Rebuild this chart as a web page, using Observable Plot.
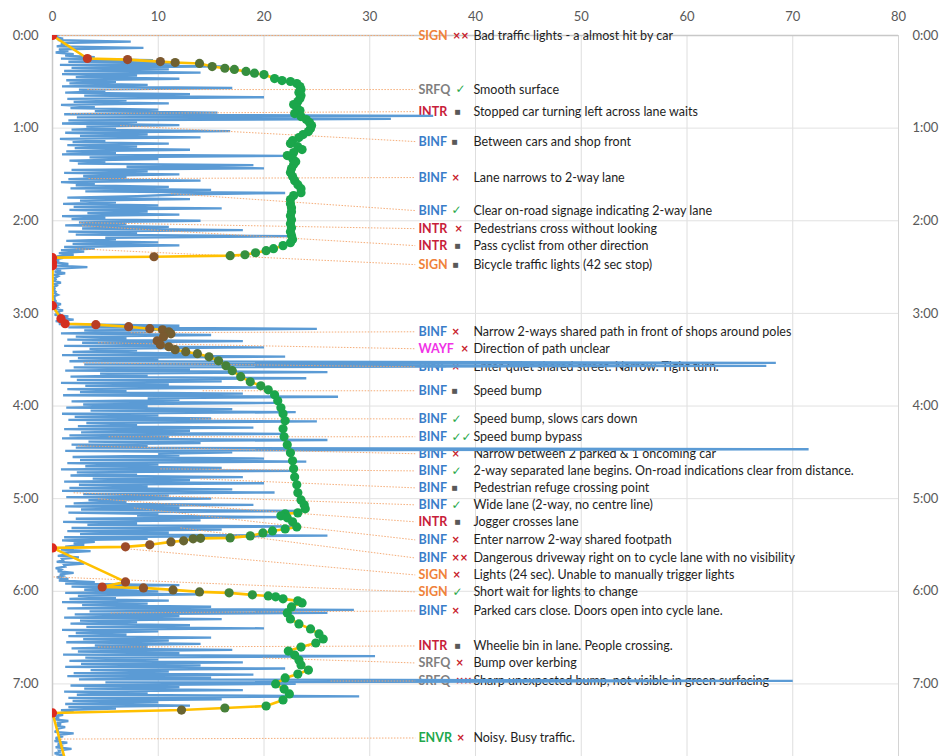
<!DOCTYPE html>
<html><head><meta charset="utf-8">
<script src="https://cdn.jsdelivr.net/npm/d3@7"></script>
<script src="https://cdn.jsdelivr.net/npm/@observablehq/plot@0.6"></script>
<style>body{margin:0;background:#fff;} #chart{width:941px;height:756px;overflow:hidden;}</style>
</head><body><div id="chart"></div>
<script>
// ---- Blue series (vibration), sampled every 2 s: peak value and trough value ----
const blueHigh = [
 0.5,1,7.4,1.2,8.6,1.5,2,4,9.5,12,16,11,14,8,12,
 6,9,17,5,13,20,7,11,4,10,15.6,36,32,8,12,6,16.8,9,14,5,11,
 8,13,6,22,10,5,19,20,9,12,7,14,4,11,15,22,8,13,6,10,16,9,12,5,14,7,11,18,8,22.5,6,10,12,4,3,2,
 1,0.5,1.5,3.3,0.8,1.2,0.5,0.3,0.8,0.4,0.2,0.3,0.5,0.2,0.3,0.8,0.5,1,0.6,1.5,2,1.2,
 12,25,9,15,7,18,11,20,8,14, 22,10,68.4,67.5,13,26,9,24,16,11, 20,7,18,27,12,21,9,17,23,10,
 15,25,8,19,13,22,11,26,14,9, 71.5,17,12,20,24,10,16,23,8,18, 13,20,9,17,21,11,15,7,19,12,
 24,10,22,14,8,23,16,11,26,9,
 4,3,2,3.6,1.5,2.5,1,3,1.2,0.8,2,1,1.5,4,
 12,8,10,14,6,11,9,15,28.5,26, 12,16,8,13,20,10,7,15,11,14, 9,17,12,30.5,10,18,14,22,11,19,
 15,70,23,12,18,9,29,16,10,
 13,6,2,1,0.5,1.5,0.8,1.2,0.5,2,1,0.6,1.4,0.8,1.8,0.7,1
];
const blueLow = [
 0.2,0.5,0.8,0.4,0.6,0.3,1.2,0.8,1.5,0.7,1.8,1.1,0.9,2.2,1.3,
 1.6,0.9,2.5,1.2,3,1.4,2,0.8,1.7,4,1.1,2.3,1.5,0.9,3.2,1.8,1.2,2.6,0.7,1.9,1.4,
 2.1,1.3,0.9,3.5,1.6,2.4,7,1.8,1.1,2.9,1.5,0.8,2.2,1.7,3.1,12,1.4,2.6,1.0,2.0,1.6,3.3,0.9,1.8,2.5,1.2,2.8,1.5,2.2,5,1.3,1.9,1.1,0.8,0.6,0.4,
 0.3,0.2,0.4,0.3,0.2,0.1,0.2,0.1,0.2,0.1,0.1,0.2,0.1,0.2,0.1,0.3,0.2,0.4,0.2,0.5,0.3,0.6,
 1.5,3,0.8,2.2,1.4,2.8,1.1,3.5,1.9,0.9, 2.4,1.6,3,2,1.2,4.5,1.7,2.3,0.8,3.1, 1.4,2.6,1.0,9,1.8,2.9,1.3,3.6,0.9,2.1,
 1.5,3.2,2.4,1.1,2.7,1.6,0.9,3.4,1.8,2.2, 1.2,10,1.9,2.6,1.4,3.1,0.8,2.3,1.7,3.8, 1.1,2.5,1.6,0.9,2.9,1.3,3.4,2.0,1.2,2.7,
 1.5,8,2.2,1.0,3.3,1.8,1.4,2.6,1.1,0.9,
 2,1.2,0.8,1,0.5,0.9,0.4,1.1,0.3,0.5,0.7,0.4,0.6,1.2,
 1.8,3,1.2,2.4,1.6,0.9,2.8,1.4,3.5,2.1, 1.1,2.6,1.7,3.2,0.9,2.2,1.5,2.9,1.3,4, 1.8,2.4,1.0,3.1,1.6,2.7,1.2,3.6,2.0,1.4,
 2.5,5,1.7,3.0,1.1,2.3,1.5,1.9,1.2,
 1.5,0.8,0.4,0.3,0.2,0.4,0.3,0.5,0.2,0.6,0.3,0.2,0.5,0.3,0.6,0.2,0.4
];
const blueStep = 2; // seconds between samples

// ---- Speed series (time in seconds, speed) ----
const speedTime = [
 0,14.9,15.6,16.9,17.5,18.1,20.1,21.2,22.0,23.3,24.4,25.3,27.9,29.2,29.8,
 31.1,33.1,35.0,36.9,38.9,40.8,42.8,44.7,46.7,48.6,50.6,52.5,54.4,56.4,58.3,60.3,62.2,64.2,66.1,68.1,70.0,72.0,73.9,75.8,77.8,79.7,81.7,83.6,86.2,88.8,91.4,94.0,96.6,99.2,101.8,103.7,106.3,108.9,111.5,114.1,116.7,119.3,121.9,124.5,127.1,129.6,132.2,134.2,136.1,138.1,139.4,140.7,142.0,142.6,143.3,143.9,147.1,149.1,
 175,183.4,186.7,187.3,188.6,189.9,190.6,191.9,193.2,195.1,197.7,200.3,201.6,203.5,204.8,206.1,208.1,210.7,213.9,217.1,221.0,224.3,226.9,229.5,232.7,236.6,241.1,245.0,249.6,254.7,259.9,265.1,270.3,275.5,280.7,285.9,291.0,296.2,300.8,304.0,306.6,309.2,309.8,311.1,312.4,315.0,318.3,319.6,320.9,322.2,324.1,325.4,325.7,326.0,327.3,328.0,329.9,331.2,331.9,
 353.9,357.2,357.8,359.1,360.4,361.0,362.3,363.0,363.6,364.9,366.2,367.5,370.1,374.0,377.9,381.1,384.4,387.6,390.9,393.5,396.1,398.7,401.3,404.5,407.7,411.0,413.6,416.1,420.0,423.3,426.5,430.4,434.3,435.6,436.9,438.8,472
];
const speedValue = [
 0,3.3,7.1,10.2,11.6,13.9,15.1,16.3,17.2,18.3,19.1,20.0,21.0,21.7,22.5,
 23.1,23.4,23.5,23.3,23.5,23.4,23.2,22.8,23.1,23.4,22.9,23.5,24.0,24.3,24.5,24.4,24.2,23.7,23.3,22.7,22.5,23.2,23.6,22.8,22.2,22.7,23.0,22.8,22.6,22.5,22.7,22.9,23.2,23.5,23.5,22.8,22.5,22.5,22.6,22.6,22.5,22.6,22.5,22.6,22.5,22.6,22.7,22.5,21.8,20.9,20.2,19.2,18.2,16.8,9.6,0,0,0,
 0,0.8,1.2,4.1,7.2,9.2,10.4,11.0,11.2,10.5,9.9,10.2,11.0,11.6,12.6,13.7,14.8,15.7,16.4,17.0,17.8,18.7,19.7,20.4,21.0,21.3,21.6,21.8,22.0,21.8,21.9,22.2,22.5,22.7,22.8,22.9,23.1,23.2,23.5,23.8,23.9,23.2,22.0,21.6,22.2,22.7,23.1,22.0,20.8,19.9,18.7,16.8,14.0,13.3,12.4,11.2,9.2,6.9,0,
 6.9,4.7,8.6,11.4,13.9,16.7,18.9,20.4,21.1,21.8,23.2,23.6,22.6,22.2,22.5,23.3,24.4,25.2,25.6,24.9,23.5,22.3,22.9,23.3,23.5,24.2,23.2,22.0,21.1,21.9,22.4,21.8,20.2,16.3,12.2,0,1.3
];

// ---- Annotations ----
const annCategory = ["SIGN","SRFQ","INTR","BINF","BINF","BINF","INTR","INTR","SIGN","BINF","WAYF","BINF","BINF","BINF","BINF","BINF","BINF","BINF","BINF","INTR","BINF","BINF","SIGN","SIGN","BINF","INTR","SRFQ","SRFQ","ENVR"];
const annRating = ["××","✓","■","■","×","✓","×","■","■","×","×","×","■","✓","✓✓","×","✓","■","✓","■","×","××","×","✓","×","■","×","××","×"];
const annText = [
 "Bad traffic lights - a almost hit by car",
 "Smooth surface",
 "Stopped car turning left across lane waits",
 "Between cars and shop front",
 "Lane narrows to 2-way lane",
 "Clear on-road signage indicating 2-way lane",
 "Pedestrians cross without looking",
 "Pass cyclist from other direction",
 "Bicycle traffic lights (42 sec stop)",
 "Narrow 2-ways shared path in front of shops around poles",
 "Direction of path unclear",
 "Enter quiet shared street. Narrow. Tight turn.",
 "Speed bump",
 "Speed bump, slows cars down",
 "Speed bump bypass",
 "Narrow between 2 parked & 1 oncoming car",
 "2-way separated lane begins. On-road indications clear from distance.",
 "Pedestrian refuge crossing point",
 "Wide lane (2-way, no centre line)",
 "Jogger crosses lane",
 "Enter narrow 2-way shared footpath",
 "Dangerous driveway right on to cycle lane with no visibility",
 "Lights (24 sec). Unable to manually trigger lights",
 "Short wait for lights to change",
 "Parked cars close. Doors open into cycle lane.",
 "Wheelie bin in lane. People crossing.",
 "Bump over kerbing",
 "Sharp unexpected bump, not visible in green surfacing",
 "Noisy. Busy traffic."
];
const annEventTime = [0,35.0,50.6,58.3,92.7,102.4,121.2,123.2,138.1,192.5,199.0,212.0,230.1,248.3,259.9,265.8,280.7,287.2,296.2,300.1,306.0,318.9,332.5,350.7,374.0,396.1,403.2,418.1,455.7];
const annEventValue = [0,3.3,1.7,6.4,3.4,11.2,2.6,2.8,2.2,7.4,4.3,2.9,14.2,13.0,5.3,2.4,10.2,14.0,2.0,4.3,7.7,12.1,7.1,0.1,5.5,4.3,19.9,26.3,0.8];
const annLabelTime = [0,35.0,49.3,68.7,92.0,113.4,125.1,136.1,148.4,191.9,202.9,214.6,230.1,248.3,259.9,270.9,282.0,293.0,304.0,315.0,326.7,338.4,349.4,360.4,372.7,395.4,406.4,418.1,455.0];

const xTicks = [0,10,20,30,40,50,60,70,80];
const timeTicks = [0,60,120,180,240,300,360,420];

// ---- styling ----
const catStyle = {
  SIGN:{color:"#f0823a", iconDx:34},
  SRFQ:{color:"#7f7f7f", iconDx:37},
  INTR:{color:"#c8203a", iconDx:36},
  BINF:{color:"#3a7dc9", iconDx:33},
  WAYF:{color:"#f032e6", iconDx:42},
  ENVR:{color:"#22a84c", iconDx:38}
};
const ratingStyle = {
  "✓":{color:"#2aa84a", size:12, weight:"normal"},
  "✓✓":{color:"#2aa84a", size:12, weight:"normal"},
  "×":{color:"#c8202a", size:10, weight:"bold"},
  "××":{color:"#c8202a", size:10, weight:"bold"},
  "■":{color:"#595959", size:6.5, weight:"normal"}
};
const labelX = 34.6, leaderEndX = 34.3, descDx = 55;

const blue = [];
blueHigh.forEach((h, i) => {
  blue.push({t: i * blueStep, v: h});
  blue.push({t: i * blueStep + blueStep / 2, v: blueLow[i]});
});
const speed = speedTime.map((t, i) => ({t, v: speedValue[i]}));
const ann = annCategory.map((c, i) => ({
  cat: c, rating: annRating[i], text: annText[i],
  eT: annEventTime[i], eV: annEventValue[i], lT: annLabelTime[i],
  lx: labelX, ex: leaderEndX
}));

const fmtTime = t => `${Math.floor(t / 60)}:${String(t % 60).padStart(2, "0")}`;
const FONT = "Lato, 'Liberation Sans', sans-serif";

const textMarks = [];
for (const c of Object.keys(catStyle)) {
  const rows = ann.filter(d => d.cat === c);
  if (!rows.length) continue;
  textMarks.push(Plot.text(rows, {x: "lx", y: "lT", text: "cat", textAnchor: "start",
    fill: catStyle[c].color, fontWeight: "bold", fontSize: 12.5, fontFamily: FONT}));
  for (const r of Object.keys(ratingStyle)) {
    const rr = rows.filter(d => d.rating === r);
    if (!rr.length) continue;
    const s = ratingStyle[r];
    textMarks.push(Plot.text(rr, {x: "lx", y: "lT", text: "rating", textAnchor: "start",
      dx: catStyle[c].iconDx, fill: s.color, fontSize: s.size, fontWeight: s.weight,
      fontFamily: "'DejaVu Sans', sans-serif"}));
  }
}
textMarks.push(Plot.text(ann, {x: "lx", y: "lT", text: "text", textAnchor: "start",
  dx: descDx, fill: "#1e1e1e", fontSize: 12.5, fontFamily: FONT}));

const chart = Plot.plot({
  width: 941, height: 756,
  marginTop: 35, marginLeft: 52, marginRight: 43, marginBottom: 0,
  x: {domain: [0, 80], axis: null},
  y: {domain: [0, 467], reverse: true, axis: null},
  color: {type: "linear", domain: [0, 3.5, 7, 10.5, 14, 17.5, 21],
          range: ["#dc2a1f", "#c23a22", "#9c4b2a", "#7a5a2f", "#5a6e34", "#3b8a3c", "#1ba64b"],
          interpolate: "rgb", clamp: true},
  style: {fontFamily: FONT, fontSize: "13px", color: "#595959", background: "#fff", overflow: "visible"},
  marks: [
    Plot.gridX({ticks: xTicks, stroke: "#dedede", strokeOpacity: 1}),
    Plot.gridY({ticks: timeTicks, stroke: "#e2e2e2", strokeOpacity: 1}),
    Plot.ruleX([80], {stroke: "#d4d4d4"}),
    Plot.ruleY([0], {stroke: "#c8c8c8", strokeWidth: 1.5}),
    Plot.ruleX([0], {stroke: "#c8c8c8", strokeWidth: 1.5}),
    ...textMarks,
    Plot.line(blue, {x: "v", y: "t", stroke: "#5b9bd5", strokeWidth: 2.3, strokeLinejoin: "miter", strokeMiterlimit: 3, clip: true}),
    Plot.link(ann, {x1: "eV", y1: "eT", x2: "ex", y2: "lT", stroke: "#f4a46a",
      strokeWidth: 1, strokeDasharray: "1.5,1.5", strokeOpacity: 0.9}),
    Plot.line(speed, {x: "v", y: "t", stroke: "#ffc000", strokeWidth: 2.6, clip: true}),
    Plot.dot(speed, {x: "v", y: "t", r: 4.6, fill: "v", stroke: null, clip: true}),
    Plot.axisX({anchor: "top", ticks: xTicks, tickSize: 0, tickPadding: 15, fontSize: 13, fill: "#595959"}),
    Plot.axisY({anchor: "left", ticks: timeTicks, tickFormat: fmtTime, tickSize: 0, tickPadding: 14, fontSize: 13, fill: "#595959"}),
    Plot.axisY({anchor: "right", ticks: timeTicks, tickFormat: fmtTime, tickSize: 0, tickPadding: 14, fontSize: 13, fill: "#595959"})
  ]
});
document.getElementById("chart").appendChild(chart);
</script>
</body></html>
